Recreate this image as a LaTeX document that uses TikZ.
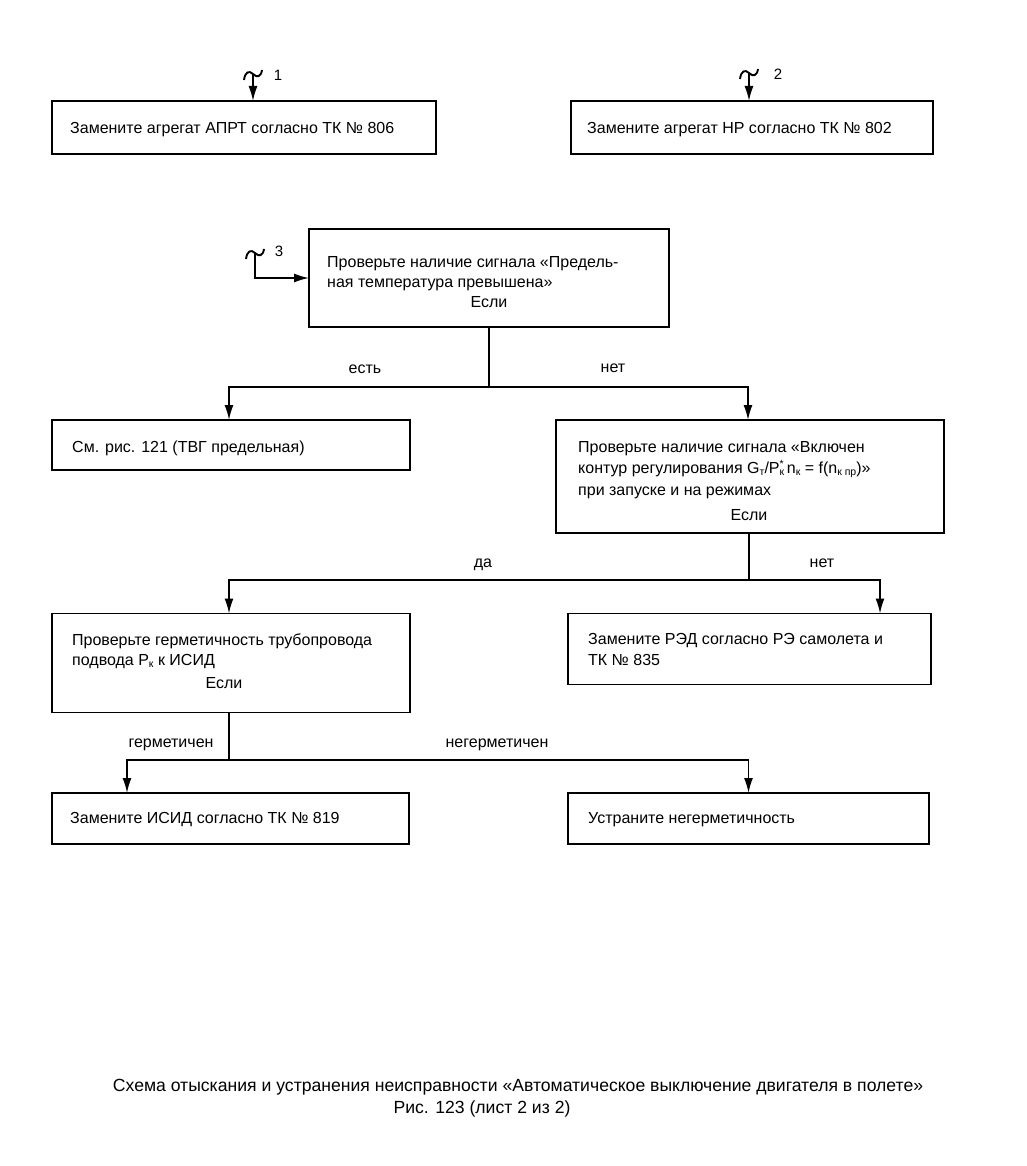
\documentclass[tikz,border=0pt]{standalone}
\usepackage{fontspec}
\setmainfont{Liberation Sans}
\usetikzlibrary{arrows.meta,calc}
\newcommand\lowidx[1]{\raisebox{-0.3ex}{\fontsize{10.5}{10.5}\selectfont #1}}
\newcommand\upidx[1]{\rlap{\raisebox{0.7ex}{\fontsize{10.5}{10.5}\selectfont #1}}}
\begin{document}
\begin{tikzpicture}[x=1pt,y=-1pt,
  box/.style={draw, line width=1.6pt, rectangle, inner sep=0pt, outer sep=0pt},
  txt/.style={anchor=base west, inner sep=0pt, font=\fontsize{16}{18}\selectfont},
  ctxt/.style={anchor=base, inner sep=0pt, font=\fontsize{16}{18}\selectfont},
  captxt/.style={anchor=base, inner sep=0pt, font=\fontsize{17.6}{20}\selectfont},
  numlab/.style={anchor=base, inner sep=0pt, font=\fontsize{15}{17}\selectfont},
  ln/.style={line width=1.6pt},
  arr/.style={line width=1.6pt, -{Latex[length=15pt,width=9pt]}}]
\fill[white] (0,0) rectangle (1026,1166);
\useasboundingbox (0,0) rectangle (1026,1166);

% boxes
\node[box, minimum width=384pt, minimum height=53pt] (b1) at (244,127.5) {};
\node[box, minimum width=362pt, minimum height=53pt] (b2) at (752,127.5) {};
\node[box, minimum width=360pt, minimum height=98pt] (b3) at (489,278) {};
\node[box, minimum width=358pt, minimum height=50pt] (b4) at (231,445) {};
\node[box, minimum width=388pt, minimum height=113pt] (b5) at (750,476.5) {};
\node[box, minimum width=358pt, minimum height=99pt] (b6) at (231,663) {};
\node[box, minimum width=363pt, minimum height=71pt] (b7) at (749.5,649) {};
\node[box, minimum width=357pt, minimum height=51pt] (b8) at (230.5,818.5) {};
\node[box, minimum width=361pt, minimum height=51pt] (b9) at (748.5,818.5) {};

% texts
\node[txt] (t1) at (70,134) {Замените агрегат АПРТ согласно ТК № 806};
\node[txt] (t2) at (587,134) {Замените агрегат НР согласно ТК № 802};
\node[txt] (t3a) at (327,267) {Проверьте наличие сигнала «Предель-};
\node[txt] (t3b) at (327,287) {ная температура превышена»};
\node[ctxt] (t3c) at (489,307) {Если};
\node[txt] (t4) at (72,452) {См. рис. 121 (ТВГ предельная)};
\node[txt] (t5a) at (578,452) {Проверьте наличие сигнала «Включен};
\node[txt] (t5b) at (578,473) {контур регулирования G\lowidx{т}/P\upidx{*}\lowidx{к}\,n\lowidx{к} = f(n\lowidx{к пр})»};
\node[txt] (t5c) at (578,495) {при запуске и на режимах};
\node[ctxt] (t5d) at (749,520) {Если};
\node[txt] (t6a) at (72,645) {Проверьте герметичность трубопровода};
\node[txt] (t6b) at (72,665) {подвода P\lowidx{к} к ИСИД};
\node[ctxt] (t6c) at (224,688) {Если};
\node[txt] (t7a) at (588,644) {Замените РЭД согласно РЭ самолета и};
\node[txt] (t7b) at (588,665) {ТК № 835};
\node[txt] (t8) at (70,823) {Замените ИСИД согласно ТК № 819};
\node[txt] (t9) at (588,823) {Устраните негерметичность};

% branch labels
\node[ctxt] (l1) at (365,373) {есть};
\node[ctxt] (l2) at (613,372) {нет};
\node[ctxt] (l3) at (483,567) {да};
\node[ctxt] (l4) at (822,567) {нет};
\node[ctxt] (l5) at (171,747) {герметичен};
\node[ctxt] (l6) at (497,747) {негерметичен};

% entry tildes
\draw[ln, line width=1.9pt] (244,80) .. controls (245,72) and (249,70) .. (253,74) .. controls (257,78) and (261,77) .. (262,70);
\draw[ln, line width=1.9pt] (740,79) .. controls (741,71) and (745,69) .. (749,73) .. controls (753,77) and (757,76) .. (758,69);
\draw[ln, line width=1.9pt] (246,259) .. controls (247,251) and (251,249) .. (255,253) .. controls (259,257) and (263,256) .. (264,249);
\coordinate (e1) at (253,74);
\coordinate (e2) at (749,73);
\coordinate (e3) at (255,253);
\node[numlab] (n1) at (278,81) {1};
\node[numlab] (n2) at (778,80) {2};
\node[numlab] (n3) at (279,257) {3};

\draw[arr] (e1) -- (e1 |- b1.north);
\draw[arr] (e2) -- (e2 |- b2.north);
\draw[arr] (e3) |- (b3.west);

% connectors
\coordinate (j1) at (489,387);
\draw[ln] (b3.south) -- (j1);
\draw[arr] (j1) -| ([xshift=-2pt]b4.north);
\draw[arr] (j1) -| ([xshift=-2pt]b5.north);

\coordinate (j2) at (749,580);
\draw[ln] (j2 |- b5.south) -- (j2);
\draw[arr] (j2) -| ([xshift=-2pt]b6.north);
\draw[arr] (j2) -| ([xshift=130.5pt]b7.north);

\coordinate (j3) at (229,760);
\draw[ln] (j3 |- b6.south) -- (j3);
\draw[arr] (j3) -| ([xshift=-103.5pt]b8.north);
\draw[arr] (j3) -| (b9.north);

% caption
\node[captxt] (c1) at (518,1091) {Схема отыскания и устранения неисправности «Автоматическое выключение двигателя в полете»};
\node[captxt] (c2) at (482,1113) {Рис. 123 (лист 2 из 2)};
\end{tikzpicture}
\end{document}
